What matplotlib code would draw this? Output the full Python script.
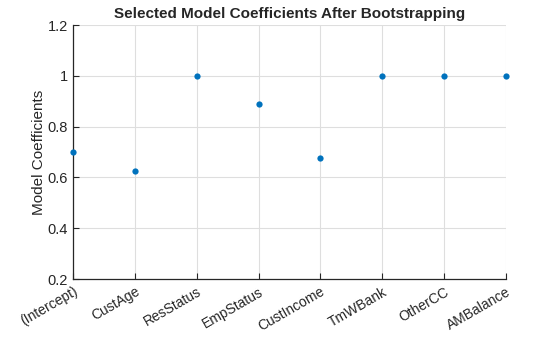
import matplotlib
matplotlib.use("Agg")
import matplotlib.pyplot as plt

plt.rcParams['font.family'] = ['Liberation Sans', 'DejaVu Sans']

# predictor names and selection frequency across bootstrap samples
predictors = ['(Intercept)', 'CustAge', 'ResStatus', 'EmpStatus',
              'CustIncome', 'TmWBank', 'OtherCC', 'AMBalance']
coef_freq = [0.70, 0.625, 1.0, 0.889, 0.676, 1.0, 1.0, 1.0]
positions = list(range(1, len(predictors) + 1))

fig = plt.figure(figsize=(5.6, 3.37), dpi=100)
ax = fig.add_axes([0.1304, 0.1721, 0.7732, 0.7537])

ax.plot(positions, coef_freq, 'o', color='#0072BD', markersize=4.5,
        markeredgewidth=0, clip_on=False, zorder=3)

ax.set_xlim(1, 8)
ax.set_ylim(0.2, 1.2)
ax.set_yticks([0.2, 0.4, 0.6, 0.8, 1.0, 1.2])
ax.set_yticklabels(['0.2', '0.4', '0.6', '0.8', '1', '1.2'])
ax.set_xticks(positions)
ax.set_xticklabels(predictors, rotation=30, ha='right', rotation_mode='anchor')

ax.grid(True, color='#dedede', linewidth=0.8)
ax.set_axisbelow(True)
for side in ('top', 'right'):
    ax.spines[side].set_visible(False)
for side in ('left', 'bottom'):
    ax.spines[side].set_color('#262626')
    ax.spines[side].set_linewidth(0.9)

ax.tick_params(direction='in', length=4, width=0.8, colors='#262626',
               labelsize=10.5, labelcolor='#262626')
ax.tick_params(axis='x', labelsize=10, pad=4)

ax.set_ylabel('Model Coefficients', fontsize=11, color='#262626', labelpad=1)
ax.set_title('Selected Model Coefficients After Bootstrapping',
             fontsize=11, fontweight='bold', color='#262626', pad=5)

fig.savefig('out.png', dpi=100)
